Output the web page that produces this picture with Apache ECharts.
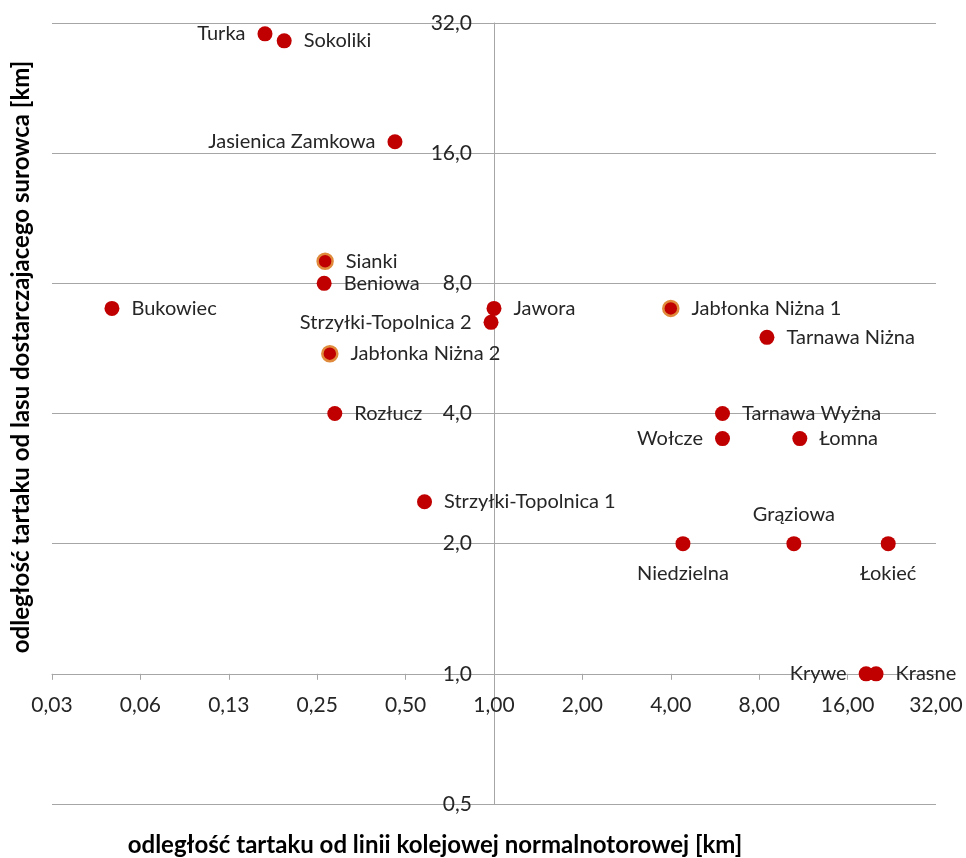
<!DOCTYPE html>
<html>
<head>
<meta charset="utf-8">
<script src="https://cdn.jsdelivr.net/npm/echarts@6/dist/echarts.min.js"></script>
<style>
  html, body { margin: 0; padding: 0; background: #fff; }
  #chart { width: 966px; height: 858px; }
</style>
</head>
<body>
<div id="chart"></div>
<script>
// Sawmills: distance to standard-gauge railway (x) vs distance to supplying forest (y), km
const names = ['Turka', 'Sokoliki', 'Jasienica Zamkowa', 'Sianki', 'Beniowa', 'Bukowiec',
  'Jawora', 'Strzyłki-Topolnica 2', 'Jabłonka Niżna 2', 'Jabłonka Niżna 1', 'Tarnawa Niżna',
  'Rozłucz', 'Tarnawa Wyżna', 'Wołcze', 'Łomna', 'Strzyłki-Topolnica 1', 'Niedzielna',
  'Grąziowa', 'Łokieć', 'Krywe', 'Krasne'];
const railKm = [0.166, 0.193, 0.46, 0.266, 0.264, 0.05,
  1.0, 0.977, 0.276, 4.0, 8.5,
  0.287, 6.0, 6.0, 11.0, 0.58, 4.4,
  10.5, 22.0, 18.5, 20.0];
const forestKm = [30.2, 29.1, 17.0, 9.0, 8.0, 7.0,
  7.0, 6.5, 5.5, 7.0, 6.0,
  4.0, 4.0, 3.5, 3.5, 2.5, 2.0,
  2.0, 2.0, 1.0, 1.0];

// Axis ticks (powers of two) and their printed labels
const xTickValues = [1 / 32, 1 / 16, 1 / 8, 1 / 4, 1 / 2, 1, 2, 4, 8, 16, 32];
const xTickLabels = ['0,03', '0,06', '0,13', '0,25', '0,50', '1,00', '2,00', '4,00', '8,00', '16,00', '32,00'];
const yTickValues = [0.5, 1, 2, 4, 8, 16, 32];
const yTickLabels = ['0,5', '1,0', '2,0', '4,0', '8,0', '16,0', '32,0'];

const xAxisTitle = 'odległość tartaku od linii kolejowej normalnotorowej [km]';
const yAxisTitle = 'odległość tartaku od lasu dostarczajacego surowca [km]';

// Sawmills drawn with an orange rim
const rimmed = ['Sianki', 'Jabłonka Niżna 1', 'Jabłonka Niżna 2'];
// Label placement per point (default: right)
const labelSide = {
  'Turka': 'left', 'Jasienica Zamkowa': 'left', 'Strzyłki-Topolnica 2': 'left',
  'Wołcze': 'left', 'Krywe': 'left', 'Niedzielna': 'bottom', 'Grąziowa': 'top', 'Łokieć': 'bottom'
};

const FONT = 'Lato';
const gridLeft = 52, gridTop = 23, gridW = 884, gridH = 781;

function tickText(values, labels, v) {
  let best = 0;
  values.forEach((t, i) => {
    if (Math.abs(Math.log2(t) - Math.log2(v)) < Math.abs(Math.log2(values[best]) - Math.log2(v))) best = i;
  });
  return labels[best];
}

const points = names.map((n, i) => {
  const item = {
    name: n,
    value: [railKm[i], forestKm[i]],
    label: { position: labelSide[n] || 'right' }
  };
  if (rimmed.includes(n)) {
    item.itemStyle = { color: '#C00000', borderColor: '#E08A3C', borderWidth: 2.5 };
  }
  return item;
});

const chart = echarts.init(document.getElementById('chart'), null, { renderer: 'canvas' });
chart.setOption({
  animation: false,
  backgroundColor: '#ffffff',
  textStyle: { fontFamily: FONT },
  grid: { left: gridLeft, top: gridTop, width: gridW, height: gridH, containLabel: false },
  xAxis: {
    type: 'log', logBase: 2, min: 1 / 32, max: 32, splitNumber: 10,
    position: 'bottom',
    offset: -gridH / 6,
    axisLine: { show: true, lineStyle: { color: '#A6A6A6', width: 1 } },
    axisTick: { show: true, length: 6, lineStyle: { color: '#A6A6A6' }, customValues: xTickValues },
    axisLabel: {
      margin: 21, color: '#262626', fontSize: 21, fontFamily: FONT,
      customValues: xTickValues,
      formatter: v => tickText(xTickValues, xTickLabels, v)
    },
    splitLine: { show: false },
    minorTick: { show: false }
  },
  yAxis: {
    type: 'log', logBase: 2, min: 0.5, max: 32, splitNumber: 6,
    position: 'left',
    offset: -gridW / 2,
    axisLine: { show: true, lineStyle: { color: '#A6A6A6', width: 1 } },
    axisTick: { show: false },
    axisLabel: {
      margin: 22, color: '#262626', fontSize: 21, fontFamily: FONT,
      formatter: v => tickText(yTickValues, yTickLabels, v)
    },
    splitLine: { show: true, lineStyle: { color: '#A6A6A6', width: 1 } }
  },
  series: [{
    type: 'scatter',
    symbol: 'circle',
    symbolSize: 15,
    data: points,
    itemStyle: { color: '#C00000', opacity: 1 },
    label: {
      show: true, formatter: '{b}', distance: 12,
      color: '#262626', fontSize: 20, fontFamily: FONT
    },
    labelLayout: { hideOverlap: false },
    emphasis: { disabled: true }
  }],
  graphic: [
    {
      type: 'text', x: 435, y: 845,
      style: {
        text: xAxisTitle, fill: '#000', font: 'bold 24px ' + FONT,
        align: 'center', verticalAlign: 'middle'
      }
    },
    {
      type: 'text', x: 21, y: 357, rotation: Math.PI / 2,
      style: {
        text: yAxisTitle, fill: '#000', font: 'bold 24px ' + FONT,
        align: 'center', verticalAlign: 'middle'
      }
    }
  ]
});
</script>
</body>
</html>
